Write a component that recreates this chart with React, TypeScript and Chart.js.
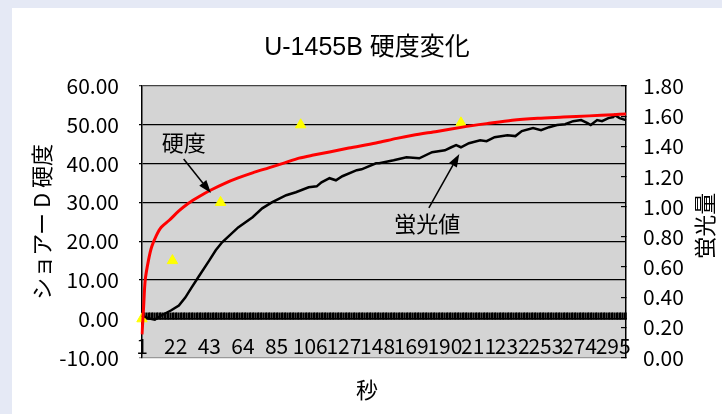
import React, { useEffect, useRef } from 'react';
import { Chart, registerables } from 'chart.js';

Chart.register(...registerables);

// ---- text ----
const TITLE = 'U-1455B 硬度変化';
const X_TITLE = '秒';
const Y_LEFT_TITLE = 'ショアー D 硬度';
const Y_RIGHT_TITLE = '蛍光量';

// ---- categories (seconds) ----
const seconds: number[] = Array.from({ length: 303 }, (_, i) => i + 1);
const LABEL_EVERY = 21;

// ---- hardness curve (left axis) ----
const hardnessSec = [1, 2, 3, 5, 7, 10, 13, 18, 24, 30, 37, 44, 52, 61, 70, 80, 90, 99, 108, 118, 130, 147, 160, 170, 185, 201, 216, 232, 248, 264, 280, 295, 303];
const hardnessVal = [-4, 3, 10, 15, 18.5, 21.5, 23.6, 25.4, 27.8, 29.8, 31.6, 33.2, 34.8, 36.3, 37.6, 38.9, 40.2, 41.4, 42.2, 43, 44, 45.3, 46.5, 47.3, 48.3, 49.4, 50.3, 51.2, 51.7, 52, 52.3, 52.6, 52.8];

// ---- fluorescence (right axis) ----
const fluorSec = [1, 5, 9, 13, 19, 24, 28, 32, 36, 43, 47, 51, 61, 70, 76, 82, 91, 97, 105, 110, 113, 118, 122, 126, 135, 138, 147, 149, 158, 166, 174, 182, 190, 194, 197, 200, 205, 212, 216, 221, 229, 234, 238, 245, 250, 255, 260, 265, 270, 275, 279, 281, 285, 288, 292, 295, 296, 299, 303];
const fluorVal = [0.28, 0.26, 0.252, 0.279, 0.312, 0.345, 0.398, 0.465, 0.531, 0.644, 0.711, 0.764, 0.863, 0.93, 0.989, 1.029, 1.076, 1.096, 1.129, 1.135, 1.162, 1.189, 1.175, 1.202, 1.242, 1.248, 1.288, 1.288, 1.308, 1.328, 1.321, 1.361, 1.374, 1.394, 1.408, 1.394, 1.421, 1.441, 1.434, 1.461, 1.474, 1.468, 1.501, 1.521, 1.507, 1.527, 1.541, 1.547, 1.567, 1.574, 1.554, 1.541, 1.574, 1.567, 1.587, 1.594, 1.607, 1.587, 1.574];

// ---- measured hardness (triangles, left axis) ----
const measuredSec = [1, 20, 50, 100, 200];
const measuredVal = [0, 15, 30, 50, 50.5];

// ---- callouts (data coordinates on left axis) ----
const callouts = [
  { text: '硬度', at: [27, 45.3], from: [27, 41.2], to: [44, 32.4] },
  { text: '蛍光値', at: [179, 24.6], from: [180, 28.6], to: [199, 42.5] },
];

const NUM_FONT = "'Noto Sans CJK JP', sans-serif";
const JP_FONT = "'Noto Sans CJK JP', sans-serif";
const TITLE_FONT = "'Liberation Sans', Arial, 'Noto Sans CJK JP', sans-serif";

const plotBg = {
  id: 'plotBg',
  beforeDraw(chart: any) {
    const { ctx, chartArea: a } = chart;
    ctx.save();
    ctx.fillStyle = '#d4d4d4';
    ctx.fillRect(a.left, a.top, a.right - a.left, a.bottom - a.top);
    ctx.restore();
  },
};

const calloutPlugin = {
  id: 'callouts',
  afterDatasetsDraw(chart: any) {
    const { ctx, chartArea: a } = chart;
    const xs = chart.scales.x;
    const ys = chart.scales.y;
    const px = (c: number) => xs.getPixelForValue(seconds.indexOf(c));
    ctx.save();
    for (const c of callouts) {
      const x0 = px(c.from[0]);
      const y0 = ys.getPixelForValue(c.from[1]);
      const x1 = px(c.to[0]);
      const y1 = ys.getPixelForValue(c.to[1]);
      const ang = Math.atan2(y1 - y0, x1 - x0);
      const hl = 13;
      const hw = 4.5;
      const bx = x1 - hl * Math.cos(ang);
      const by = y1 - hl * Math.sin(ang);
      ctx.strokeStyle = '#000';
      ctx.lineWidth = 1.5;
      ctx.beginPath();
      ctx.moveTo(x0, y0);
      ctx.lineTo(bx, by);
      ctx.stroke();
      ctx.fillStyle = '#000';
      ctx.beginPath();
      ctx.moveTo(x1, y1);
      ctx.lineTo(bx + hw * Math.sin(ang), by - hw * Math.cos(ang));
      ctx.lineTo(bx - hw * Math.sin(ang), by + hw * Math.cos(ang));
      ctx.closePath();
      ctx.fill();
      ctx.font = `22px ${JP_FONT}`;
      ctx.textAlign = 'center';
      ctx.textBaseline = 'middle';
      ctx.fillText(c.text, px(c.at[0]), ys.getPixelForValue(c.at[1]));
    }
    // right axis title, rotated like the left one
    ctx.translate(a.right + 79, (a.top + a.bottom) / 2 + 4);
    ctx.rotate(-Math.PI / 2);
    ctx.font = `22px ${JP_FONT}`;
    ctx.textAlign = 'center';
    ctx.textBaseline = 'middle';
    ctx.fillStyle = '#000';
    ctx.fillText(Y_RIGHT_TITLE, 0, 0);
    ctx.restore();
  },
};

export default function App() {
  const ref = useRef<HTMLCanvasElement | null>(null);

  useEffect(() => {
    document.body.style.margin = '0';
    document.body.style.background = '#e5e9f5';
    const canvas = ref.current;
    if (!canvas) return;
    const chart = new Chart(canvas, {
      type: 'line',
      data: {
        labels: seconds,
        datasets: [
          {
            label: '硬度',
            data: hardnessSec.map((s, i) => ({ x: s, y: hardnessVal[i] })),
            borderColor: '#ff0000',
            borderWidth: 3,
            pointRadius: 0,
            tension: 0.3,
            yAxisID: 'y',
            order: 1,
          },
          {
            label: '蛍光値',
            data: fluorSec.map((s, i) => ({ x: s, y: fluorVal[i] })),
            borderColor: '#000000',
            borderWidth: 2.5,
            pointRadius: 0,
            tension: 0,
            yAxisID: 'y1',
            order: 2,
          },
          {
            label: '実測',
            data: measuredSec.map((s, i) => ({ x: s, y: measuredVal[i] })),
            showLine: false,
            pointStyle: 'triangle',
            pointRadius: 6,
            backgroundColor: '#ffff00',
            borderColor: '#ffff00',
            borderWidth: 1,
            yAxisID: 'y',
            order: 3,
          },
        ],
      },
      options: {
        animation: false,
        responsive: false,
        devicePixelRatio: 1,
        layout: { padding: 0 },
        plugins: {
          legend: { display: false },
          tooltip: { enabled: false },
          title: {
            display: true,
            text: TITLE,
            color: '#000',
            font: { family: TITLE_FONT, size: 25, weight: 'normal', lineHeight: 1.2 },
            padding: { top: 25, bottom: 23 },
          },
          subtitle: {
            display: true,
            position: 'bottom',
            text: X_TITLE,
            color: '#000',
            font: { family: JP_FONT, size: 22, weight: 'normal', lineHeight: 1.2 },
            padding: { top: 19, bottom: 11 },
          },
        },
        scales: {
          x: {
            type: 'category',
            position: { y: 0 } as any,
            offset: false,
            grid: {
              drawOnChartArea: false,
              drawTicks: true,
              tickLength: -7,
              color: '#000',
              lineWidth: 1.7,
            },
            border: { display: true, color: '#000', width: 1.5 },
            ticks: {
              autoSkip: false,
              maxRotation: 0,
              minRotation: 0,
              padding: 22,
              color: '#000',
              font: { family: NUM_FONT, size: 21, lineHeight: 1.2 },
              callback: (_v: any, i: number) => (i % LABEL_EVERY === 0 ? String(seconds[i]) : ''),
            },
          },
          y: {
            type: 'linear',
            position: 'left',
            min: -10,
            max: 60,
            afterFit: (s: any) => { s.width = 130; },
            grid: {
              color: (c: any) => (c.tick && c.tick.value === 60 ? '#444' : c.tick && c.tick.value === -10 ? '#999' : '#000'),
              lineWidth: 1.2,
              drawTicks: true,
              tickLength: 3,
            },
            border: { display: true, color: '#000', width: 1.5 },
            ticks: {
              stepSize: 10,
              autoSkip: false,
              padding: 20,
              color: '#000',
              font: { family: NUM_FONT, size: 21, lineHeight: 1 },
              callback: (v: any) => Number(v).toFixed(2),
            },
            title: {
              display: true,
              text: Y_LEFT_TITLE,
              color: '#000',
              font: { family: JP_FONT, size: 22, lineHeight: 1.2 },
              padding: { top: 16, bottom: 0 },
            },
          },
          y1: {
            type: 'linear',
            position: 'right',
            min: 0,
            max: 1.8,
            afterFit: (s: any) => { s.width = 96; },
            grid: {
              drawOnChartArea: false,
              drawTicks: true,
              tickLength: -5,
              color: '#000',
              lineWidth: 1.2,
            },
            border: { display: true, color: '#000', width: 1.5 },
            ticks: {
              stepSize: 0.2,
              autoSkip: false,
              padding: 22,
              color: '#000',
              font: { family: NUM_FONT, size: 21, lineHeight: 1 },
              callback: (v: any) => Number(v).toFixed(2),
            },
          },
        },
      },
      plugins: [plotBg, calloutPlugin],
    } as any);
    return () => chart.destroy();
  }, []);

  return (
    <div
      style={{
        position: 'fixed',
        left: 12,
        top: 8,
        width: 710,
        height: 406,
        background: '#ffffff',
      }}
    >
      <canvas ref={ref} width={710} height={406} style={{ display: 'block', width: 710, height: 406 }} />
    </div>
  );
}
